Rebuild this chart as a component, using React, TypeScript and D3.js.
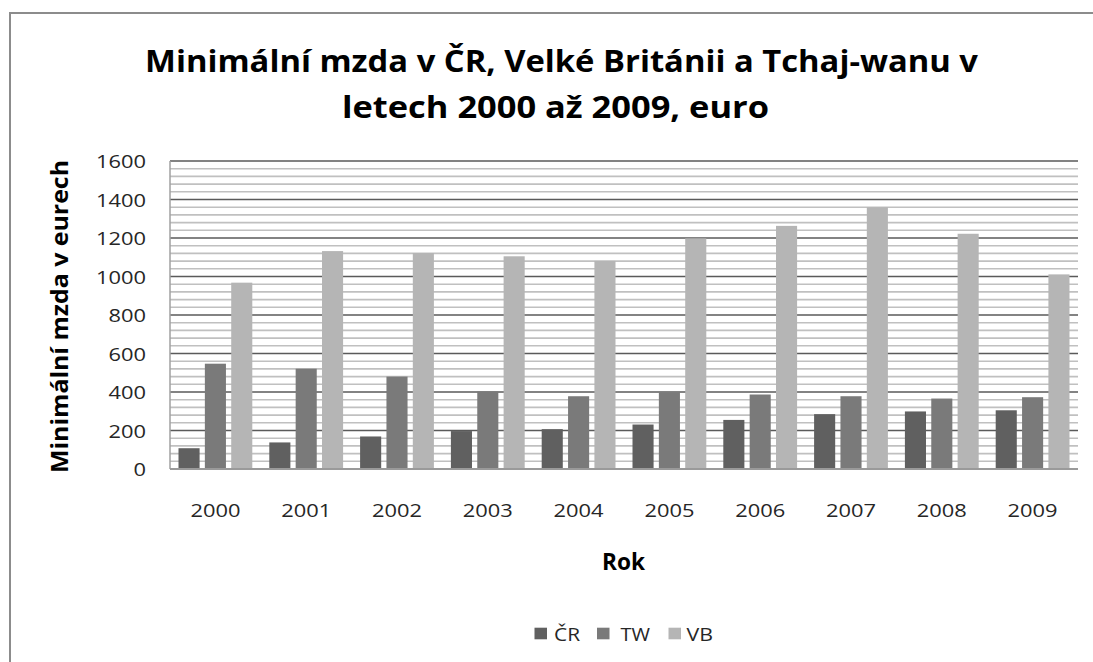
import { useRef, useEffect } from 'react';
import * as d3 from 'd3';

const years = ['2000', '2001', '2002', '2003', '2004', '2005', '2006', '2007', '2008', '2009'];
const seriesNames = ['ČR', 'TW', 'VB'];
const crValues = [108, 138, 169, 197, 207, 231, 255, 285, 299, 305];
const twValues = [547, 521, 480, 402, 378, 399, 387, 378, 366, 373];
const vbValues = [968, 1132, 1122, 1105, 1081, 1198, 1263, 1360, 1222, 1011];
const seriesColors = ['#606060', '#7a7a7a', '#b5b5b5'];
const yTicks = [0, 200, 400, 600, 800, 1000, 1200, 1400, 1600];

const W = 1093;
const H = 662;

export default function App() {
  const svgRef = useRef<SVGSVGElement>(null);

  useEffect(() => {
    const svg = d3.select(svgRef.current);
    svg.selectAll('*').remove();

    const font = '"Open Sans", sans-serif';
    const plot = { left: 170, right: 1078, top: 161, bottom: 469 };
    const series = [crValues, twValues, vbValues];

    // frame (right and bottom edges fall outside the picture)
    svg.append('rect').attr('x', 10).attr('y', 13).attr('width', W + 20).attr('height', H + 20)
      .attr('fill', '#fff').attr('stroke', '#8c8c8c').attr('stroke-width', 2);

    const x = d3.scaleBand().domain(years).range([plot.left, plot.right]);
    const xInner = d3.scaleBand().domain(seriesNames).range([8.5, x.bandwidth() - 8.5]).paddingInner(0.2);
    const y = d3.scaleLinear().domain([0, 1600]).range([plot.bottom, plot.top]);

    // minor grid every 40
    const minor = d3.range(0, 1601, 40).filter(v => v % 200 !== 0);
    svg.append('g').selectAll('line').data(minor).join('line')
      .attr('x1', plot.left).attr('x2', plot.right)
      .attr('y1', d => y(d)).attr('y2', d => y(d))
      .attr('stroke', '#c0c0c0').attr('stroke-width', 1.6);

    // major grid
    svg.append('g').selectAll('line').data(yTicks.filter(v => v > 0)).join('line')
      .attr('x1', plot.left).attr('x2', plot.right)
      .attr('y1', d => y(d)).attr('y2', d => y(d))
      .attr('stroke', '#5a5a5a').attr('stroke-width', 1.6);

    svg.append('line').attr('x1', plot.left).attr('x2', plot.left)
      .attr('y1', plot.top).attr('y2', plot.bottom)
      .attr('stroke', '#a0a0a0').attr('stroke-width', 1.5);

    // bars
    series.forEach((vals, si) => {
      svg.append('g').selectAll('rect').data(vals).join('rect')
        .attr('x', (_, i) => (x(years[i]) ?? 0) + (xInner(seriesNames[si]) ?? 0))
        .attr('width', xInner.bandwidth())
        .attr('y', d => y(d))
        .attr('height', d => y(0) - y(d))
        .attr('fill', seriesColors[si]);
    });

    svg.append('line').attr('x1', plot.left).attr('x2', plot.right)
      .attr('y1', plot.bottom).attr('y2', plot.bottom)
      .attr('stroke', '#9a9a9a').attr('stroke-width', 2);

    // y tick labels
    svg.append('g').selectAll('text').data(yTicks).join('text')
      .attr('x', 146).attr('y', d => y(d) + 7)
      .attr('text-anchor', 'end').attr('font-family', font).attr('font-size', 17.5)
      .attr('textLength', d => String(d).length * 12.5).attr('lengthAdjust', 'spacingAndGlyphs')
      .attr('fill', '#262626').text(d => d);

    // x tick labels
    svg.append('g').selectAll('text').data(years).join('text')
      .attr('x', d => (x(d) ?? 0) + x.bandwidth() / 2).attr('y', 517)
      .attr('text-anchor', 'middle').attr('font-family', font).attr('font-size', 19)
      .attr('textLength', 50).attr('lengthAdjust', 'spacingAndGlyphs')
      .attr('fill', '#262626').text(d => d);

    // title
    const title = ['Minimální mzda v ČR, Velké Británii a Tchaj-wanu v', 'letech 2000 až 2009, euro'];
    const titleX = [561.5, 555.5];
    const titleLen = [833, 427];
    svg.append('g').selectAll('text').data(title).join('text')
      .attr('x', (_, i) => titleX[i]).attr('y', (_, i) => 72 + i * 46)
      .attr('text-anchor', 'middle').attr('font-family', font).attr('font-weight', 'bold')
      .attr('font-size', 30).attr('textLength', (_, i) => titleLen[i]).attr('lengthAdjust', 'spacingAndGlyphs')
      .attr('fill', '#000').text(d => d);

    // axis titles
    svg.append('text').attr('transform', 'translate(68,316.5) rotate(-90)')
      .attr('text-anchor', 'middle').attr('font-family', font).attr('font-weight', 'bold')
      .attr('font-size', 24).attr('textLength', 313).attr('lengthAdjust', 'spacingAndGlyphs')
      .attr('fill', '#000').text('Minimální mzda v eurech');
    svg.append('text').attr('x', 623.5).attr('y', 570)
      .attr('text-anchor', 'middle').attr('font-family', font).attr('font-weight', 'bold')
      .attr('font-size', 24).attr('textLength', 43).attr('lengthAdjust', 'spacingAndGlyphs')
      .attr('fill', '#000').text('Rok');

    // legend
    const legendX = [534.5, 597, 668.5];
    const legendTextX = [554, 620.5, 686.5];
    const legendLen = [26, 29.5, 26.5];
    seriesNames.forEach((name, i) => {
      svg.append('rect').attr('x', legendX[i]).attr('y', 627.7).attr('width', 12.5).attr('height', 11.6)
        .attr('fill', seriesColors[i]);
      svg.append('text').attr('x', legendTextX[i]).attr('y', 640.5)
        .attr('font-family', font).attr('font-size', 18.5)
        .attr('textLength', legendLen[i]).attr('lengthAdjust', 'spacingAndGlyphs')
        .attr('fill', '#262626').text(name);
    });
  }, []);

  return (
    <svg ref={svgRef} width={W} height={H}
      style={{ display: 'block', position: 'absolute', left: 0, top: 0 }} />
  );
}
